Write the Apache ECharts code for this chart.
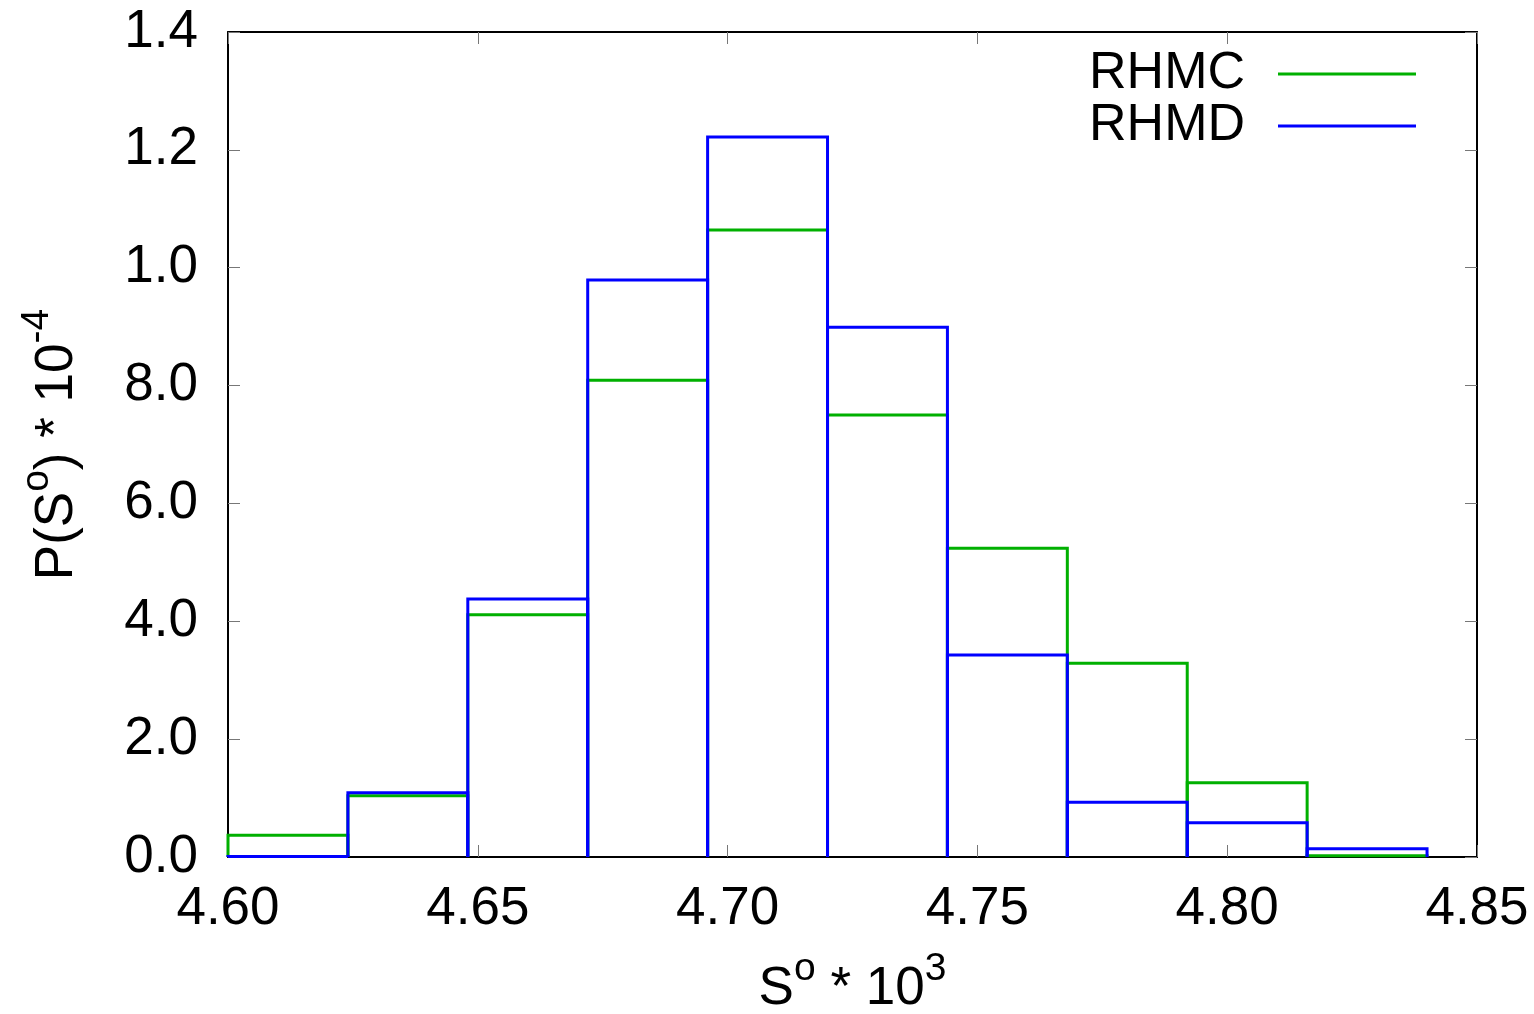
<!DOCTYPE html>
<html>
<head>
<meta charset="utf-8">
<script src="https://cdn.jsdelivr.net/npm/echarts@6/dist/echarts.min.js"></script>
<style>html,body{margin:0;padding:0;background:#fff}#c{width:1534px;height:1014px}</style>
</head>
<body>
<div id="c"></div>
<script>
// bin edges (S° * 10^3)
const binEdges = [4.600, 4.624, 4.648, 4.672, 4.696, 4.720, 4.744, 4.768, 4.792, 4.816, 4.840];
// histogram heights
const rhmc = [0.037, 0.104, 0.411, 0.809, 1.064, 0.750, 0.524, 0.329, 0.126, 0.002];
const rhmd = [0.001, 0.109, 0.438, 0.979, 1.222, 0.899, 0.343, 0.093, 0.058, 0.014];
// y tick labels as printed in the figure
const yTickValues = [0, 0.2, 0.4, 0.6, 0.8, 1.0, 1.2, 1.4];
const yTickLabels = ["0.0", "2.0", "4.0", "6.0", "8.0", "1.0", "1.2", "1.4"];
const seriesNames = ["RHMC", "RHMD"];
const colors = ["#00b000", "#0000ff"];

const FONT = "Liberation Sans, Arial, sans-serif";

function buildData(vals) {
  return vals.map((v, i) => [binEdges[i], binEdges[i + 1], v]);
}

function renderBox(color) {
  return function (params, api) {
    const x0 = api.value(0), x1 = api.value(1), y = api.value(2);
    const p00 = api.coord([x0, 0]);
    const p0y = api.coord([x0, y]);
    const p1y = api.coord([x1, y]);
    const p10 = api.coord([x1, 0]);
    return {
      type: 'polyline',
      shape: { points: [p00, p0y, p1y, p10] },
      style: { stroke: color, lineWidth: 3, fill: null }
    };
  };
}

const chart = echarts.init(document.getElementById('c'), null, { renderer: 'canvas' });

const axisCommon = {
  axisLine: { show: true, onZero: false, lineStyle: { color: '#000', width: 2 } },
  axisTick: { show: true, inside: true, length: 12, lineStyle: { color: '#777', width: 1 } },
  splitLine: { show: false }
};

const richName = {
  t: { fontFamily: FONT, fontSize: 53, lineHeight: 53, color: '#000', verticalAlign: 'bottom' },
  s: { fontFamily: FONT, fontSize: 39, lineHeight: 39, color: '#000', verticalAlign: 'bottom', padding: [0, 0, 27, 0] }
};

chart.setOption({
  animation: false,
  grid: { left: 228, right: 57, top: 32, bottom: 157, containLabel: false, outerBoundsMode: 'none' },
  legend: {
    orient: 'vertical',
    right: 113,
    top: 43,
    align: 'right',
    icon: 'rect',
    itemWidth: 138,
    itemHeight: 3,
    itemGap: 0,
    data: seriesNames,
    textStyle: { fontFamily: FONT, fontSize: 52, color: '#000', padding: [0, 28, 0, 0], lineHeight: 48 }
  },
  xAxis: [
    Object.assign({
      type: 'value', min: 4.6, max: 4.85, interval: 0.05, position: 'bottom',
      name: '{t|S}{s|o}{t| * 10}{s|3}',
      nameLocation: 'middle', nameGap: 106,
      nameTextStyle: { rich: richName },
      axisLabel: { fontFamily: FONT, fontSize: 53, color: '#000', margin: 26, formatter: v => v.toFixed(2) }
    }, axisCommon),
    Object.assign({
      type: 'value', min: 4.6, max: 4.85, interval: 0.05, position: 'top',
      axisLabel: { show: false }
    }, axisCommon)
  ],
  yAxis: [
    Object.assign({
      type: 'value', min: 0, max: 1.4, interval: 0.2, position: 'left',
      name: '{t|P(S}{s|o}{t|) * 10}{s|-4}',
      nameLocation: 'middle', nameGap: 144, nameRotate: 90,
      nameTextStyle: { rich: richName },
      axisLabel: {
        fontFamily: FONT, fontSize: 53, color: '#000', margin: 30,
        formatter: v => {
          const i = yTickValues.findIndex(t => Math.abs(t - v) < 1e-6);
          return i >= 0 ? yTickLabels[i] : '';
        }
      }
    }, axisCommon),
    Object.assign({
      type: 'value', min: 0, max: 1.4, interval: 0.2, position: 'right',
      axisLabel: { show: false }
    }, axisCommon)
  ],
  series: [
    {
      name: seriesNames[0], type: 'custom', xAxisIndex: 0, yAxisIndex: 0,
      itemStyle: { color: colors[0] },
      renderItem: renderBox(colors[0]),
      encode: { x: [0, 1], y: 2 },
      data: buildData(rhmc), z: 2
    },
    {
      name: seriesNames[1], type: 'custom', xAxisIndex: 0, yAxisIndex: 0,
      itemStyle: { color: colors[1] },
      renderItem: renderBox(colors[1]),
      encode: { x: [0, 1], y: 2 },
      data: buildData(rhmd), z: 3
    }
  ]
});
</script>
</body>
</html>
